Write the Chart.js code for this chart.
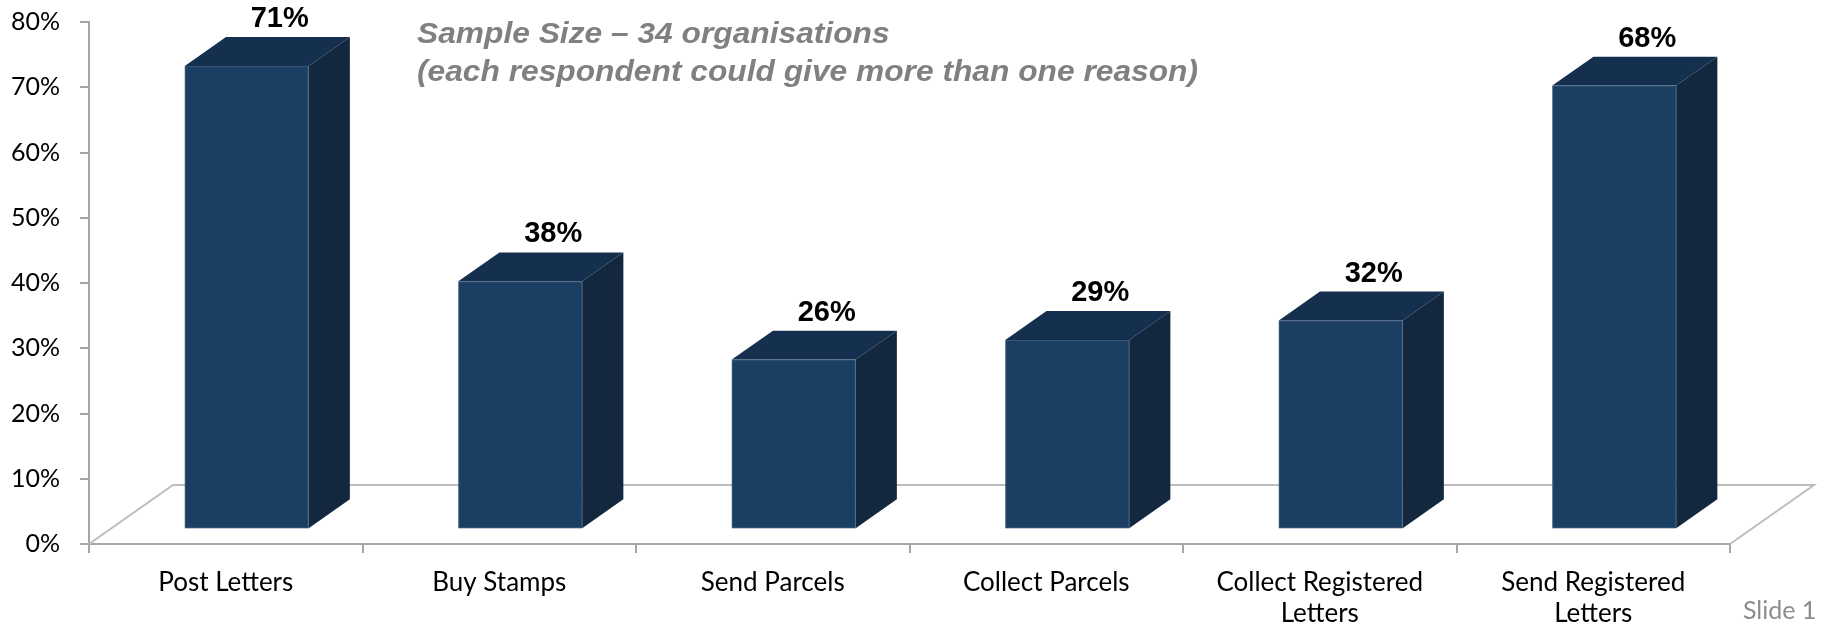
<!DOCTYPE html>
<html>
<head>
<meta charset="utf-8">
<title>Reasons for visiting</title>
<script src="https://cdn.jsdelivr.net/npm/chart.js"></script>
<style>
  html, body { margin: 0; padding: 0; background: #fff; overflow: hidden; }
  canvas { display: block; }
</style>
</head>
<body>
<canvas id="reasonsChart" width="1821" height="628"></canvas>
<script>
const categories = [
  'Post Letters',
  'Buy Stamps',
  'Send Parcels',
  'Collect Parcels',
  ['Collect Registered', 'Letters'],
  ['Send Registered', 'Letters']
];
const shares = [71, 38, 26, 29, 32, 68];
const axisMax = 80;
const tickStep = 10;
const noteLines = ['Sample Size \u2013 34 organisations', '(each respondent could give more than one reason)'];
const slideLabel = 'Slide 1';

// oblique depth of the floor, and where the boxes sit inside it
const DEPTH_X = 84, DEPTH_Y = 59;
const FRONT = 0.25, THICK = 0.49;

const FACE = '#1b3f63', TOP = '#15304e', SIDE = '#13283f';
const AXIS = '#a6a6a6', FLOOR = '#bdbdbd';
const LABEL_FONT = '"Lato", "Open Sans", sans-serif';

const box3d = {
  id: 'box3d',
  beforeDatasetsDraw(chart) {
    const { ctx, chartArea: a } = chart;
    ctx.save();
    ctx.strokeStyle = FLOOR;
    ctx.lineWidth = 2;
    ctx.beginPath();
    ctx.moveTo(a.left, a.bottom);
    ctx.lineTo(a.left + DEPTH_X, a.bottom - DEPTH_Y);
    ctx.lineTo(a.right + DEPTH_X, a.bottom - DEPTH_Y);
    ctx.lineTo(a.right, a.bottom);
    ctx.stroke();
    ctx.restore();
  },
  beforeDatasetDraw(chart, args) {
    const { ctx } = chart;
    const fx = DEPTH_X * FRONT, fy = DEPTH_Y * FRONT;
    const sx = DEPTH_X * THICK, sy = DEPTH_Y * THICK;
    ctx.save();
    args.meta.data.forEach(bar => {
      const x0 = bar.x - bar.width / 2 + fx;
      const x1 = bar.x + bar.width / 2 + fx;
      const yt = bar.y - fy;
      const yb = bar.base - fy;

      ctx.fillStyle = TOP;
      ctx.beginPath();
      ctx.moveTo(x0, yt);
      ctx.lineTo(x0 + sx, yt - sy);
      ctx.lineTo(x1 + sx, yt - sy);
      ctx.lineTo(x1, yt);
      ctx.closePath();
      ctx.fill();

      ctx.fillStyle = SIDE;
      ctx.beginPath();
      ctx.moveTo(x1, yt);
      ctx.lineTo(x1 + sx, yt - sy);
      ctx.lineTo(x1 + sx, yb - sy);
      ctx.lineTo(x1, yb);
      ctx.closePath();
      ctx.fill();

      ctx.fillStyle = FACE;
      ctx.fillRect(x0, yt, x1 - x0, yb - yt);

      // faint highlight along the edges
      ctx.strokeStyle = 'rgba(150,170,195,0.22)';
      ctx.lineWidth = 1;
      ctx.strokeRect(x0 + 0.5, yt + 0.5, x1 - x0 - 1, yb - yt - 1);
    });
    ctx.restore();
    return false;
  },
  afterDatasetsDraw(chart) {
    const { ctx } = chart;
    const meta = chart.getDatasetMeta(0);
    const fx = DEPTH_X * FRONT, fy = DEPTH_Y * FRONT;
    const sx = DEPTH_X * THICK, sy = DEPTH_Y * THICK;
    ctx.save();
    ctx.font = 'bold 29px "Liberation Sans", Arial, sans-serif';
    ctx.fillStyle = '#000';
    ctx.textAlign = 'center';
    ctx.textBaseline = 'alphabetic';
    meta.data.forEach((bar, i) => {
      ctx.fillText(shares[i] + '%', bar.x + fx + sx * 0.8, bar.y - fy - sy - 10);
    });
    ctx.restore();
  },
  afterDraw(chart) {
    const { ctx } = chart;
    ctx.save();
    ctx.fillStyle = '#808080';
    ctx.font = 'italic bold 29px "Liberation Sans", Arial, sans-serif';
    ctx.textAlign = 'left';
    // the note is set a little wider than the plain face
    const stretch = 781 / ctx.measureText(noteLines[1]).width;
    ctx.translate(417, 0);
    ctx.scale(stretch, 1);
    ctx.fillText(noteLines[0], 0, 43);
    ctx.fillText(noteLines[1], 0, 81);
    ctx.restore();

    ctx.save();
    ctx.fillStyle = '#8c8c8c';
    ctx.font = '25px ' + LABEL_FONT;
    ctx.fillText(slideLabel, 1743, 619);
    ctx.restore();
  }
};

new Chart(document.getElementById('reasonsChart'), {
  type: 'bar',
  data: {
    labels: categories,
    datasets: [{
      data: shares,
      backgroundColor: FACE,
      categoryPercentage: 1,
      barPercentage: 0.453
    }]
  },
  options: {
    responsive: false,
    animation: false,
    devicePixelRatio: 1,
    layout: { padding: { top: 22, right: 91, left: 0, bottom: 0 } },
    plugins: {
      legend: { display: false },
      tooltip: { enabled: false }
    },
    scales: {
      x: {
        grid: { offset: true, drawOnChartArea: false, tickLength: 9, color: AXIS, lineWidth: 2 },
        border: { color: AXIS, width: 2 },
        ticks: { color: '#000', font: { family: LABEL_FONT, size: 26 }, padding: 14, maxRotation: 0, autoSkip: false },
        afterFit(scale) {
          scale.height = 84;
          scale.paddingLeft = 0;
          scale.paddingRight = 0;
        }
      },
      y: {
        min: 0,
        max: axisMax,
        grid: { drawOnChartArea: false, tickLength: 9, color: AXIS, lineWidth: 2 },
        border: { color: AXIS, width: 2 },
        ticks: {
          stepSize: tickStep,
          color: '#000',
          font: { family: LABEL_FONT, size: 25 },
          padding: 20,
          callback: v => v + '%'
        },
        afterFit(scale) {
          scale.width = 89;
          scale.paddingTop = 0;
          scale.paddingBottom = 0;
        }
      }
    }
  },
  plugins: [box3d]
});
</script>
</body>
</html>
